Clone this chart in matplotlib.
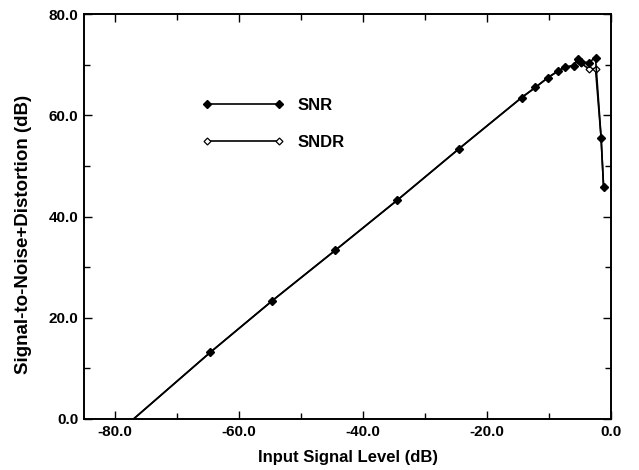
import numpy as np
import matplotlib
matplotlib.use("Agg")
import matplotlib.pyplot as plt
from matplotlib.ticker import MultipleLocator, FormatStrFormatter

level = [-85.0, -64.6, -54.6, -44.5, -34.5, -24.5, -14.4, -12.2, -10.2,
         -8.6, -7.4, -6.0, -5.3, -4.9, -3.6, -2.5, -1.6, -1.2]
snr = [-8.5, 13.2, 23.4, 33.3, 43.2, 53.4, 63.5, 65.5, 67.4,
       68.7, 69.5, 69.8, 71.2, 70.5, 70.4, 71.4, 55.6, 45.9]
sndr = [-8.5, 13.2, 23.4, 33.3, 43.2, 53.4, 63.5, 65.5, 67.4,
        68.7, 69.5, 69.8, 71.0, 70.3, 69.2, 69.2, 55.6, 45.9]

plt.rcParams['font.family'] = ['Liberation Sans', 'DejaVu Sans']
plt.rcParams['font.weight'] = 'bold'

fig = plt.figure(figsize=(6.39, 4.70), dpi=100)
ax = fig.add_axes([84 / 639, 1 - 419 / 470, (611 - 84) / 639, (419 - 14) / 470])

ax.plot(level, sndr, color='black', lw=1.2, marker='D', ms=3.5,
        mfc='white', mec='black', mew=0.9, label='SNDR')
ax.plot(level, snr, color='black', lw=1.2, marker='D', ms=3.8,
        mfc='black', mec='black', label='SNR')

ax.set_xlim(-85, 0)
ax.set_ylim(0, 80)
ax.xaxis.set_major_locator(MultipleLocator(20))
ax.xaxis.set_minor_locator(MultipleLocator(10))
ax.yaxis.set_major_locator(MultipleLocator(20))
ax.yaxis.set_minor_locator(MultipleLocator(10))
ax.xaxis.set_major_formatter(FormatStrFormatter('%.1f'))
ax.yaxis.set_major_formatter(FormatStrFormatter('%.1f'))
ax.tick_params(which='both', direction='in', top=True, right=True,
               labelsize=11, width=1.0)
ax.tick_params(which='major', length=6, pad=4)
ax.tick_params(which='minor', length=4)
for s in ax.spines.values():
    s.set_linewidth(1.4)

ax.set_xlabel('Input Signal Level (dB)', fontsize=12, fontweight='bold', labelpad=8)
ax.set_ylabel('Signal-to-Noise+Distortion (dB)', fontsize=13.5, fontweight='bold')
ax.yaxis.set_label_coords(-0.098, 0.455)

handles, labels = ax.get_legend_handles_labels()
ax.legend(handles[::-1], labels[::-1], loc='upper left', bbox_to_anchor=(0.224, 0.792),
          frameon=False, numpoints=2, handlelength=4.9, handletextpad=0.8,
          labelspacing=1.3, borderpad=0, borderaxespad=0,
          prop={'size': 12, 'weight': 'bold'})

fig.savefig('out.png', dpi=100)
